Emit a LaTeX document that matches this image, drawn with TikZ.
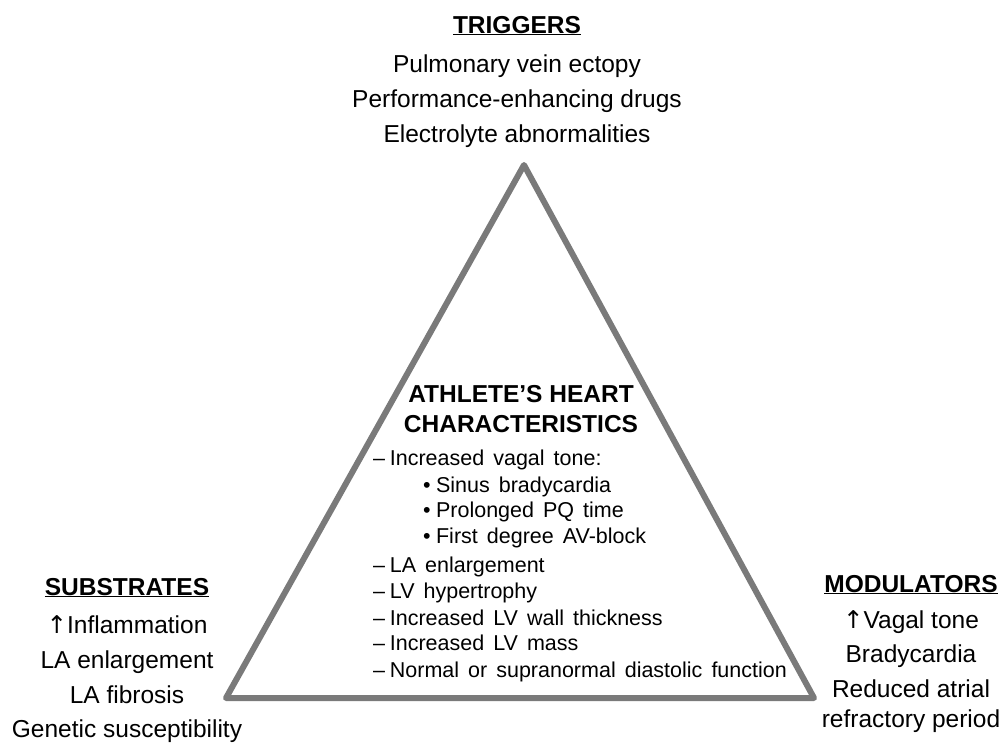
\documentclass[tikz,border=0pt]{standalone}
\usepackage{fontspec}
\setmainfont{Liberation Sans}
\newfontfamily\arrowfont{DejaVu Sans}
\newcommand{\uparr}{{\arrowfont\char"2191}}
\newcommand{\widesp}{\spaceskip=0.42em plus 0.1em\relax}
\newcommand{\dsh}{–\hspace{0.22em}}
\newcommand{\blt}{•\hspace{0.25em}}
\definecolor{trigray}{HTML}{7A7A7A}
\begin{document}
\begin{tikzpicture}[x=1pt,y=-1pt,
  hdr/.style={font=\fontsize{24.5}{28}\selectfont\bfseries, anchor=base, inner sep=0pt},
  txt/.style={font=\fontsize{24.5}{28}\selectfont, anchor=base, inner sep=0pt},
  lst/.style={font=\fontsize{21.5}{24}\selectfont\widesp, anchor=base west, inner sep=0pt},
  tri/.style={draw=trigray, line width=6pt, line join=round}]
\useasboundingbox (0,0) rectangle (1005,744);
\coordinate (apex) at (524,165);
\coordinate (bl) at (226,698);
\coordinate (br) at (814,698);
\draw[tri] (apex) -- (bl) -- (br) -- cycle;

% Triggers
\node[hdr] (trig) at (517,33) {\underline{TRIGGERS}};
\node[txt] (t1) at (517,72) {Pulmonary vein ectopy};
\node[txt] (t2) at (517,107) {Performance-enhancing drugs};
\node[txt] (t3) at (517,142) {Electrolyte abnormalities};

% Center
\node[hdr] (ah1) at (521,402) {ATHLETE’S HEART};
\node[hdr] (ah2) at (521,432) {CHARACTERISTICS};
\node[lst] (c1) at (373,465) {\dsh Increased vagal tone:};
\node[lst] (c2) at (423,492) {\blt Sinus bradycardia};
\node[lst] (c3) at (423,517) {\blt Prolonged PQ time};
\node[lst] (c4) at (423,543) {\blt First degree AV-block};
\node[lst] (c5) at (373,572) {\dsh LA enlargement};
\node[lst] (c6) at (373,598) {\dsh LV hypertrophy};
\node[lst] (c7) at (373,625) {\dsh Increased LV wall thickness};
\node[lst] (c8) at (373,650) {\dsh Increased LV mass};
\node[lst] (c9) at (373,677) {\dsh Normal or supranormal diastolic function};

% Substrates
\node[hdr] (sub) at (127,595) {\underline{SUBSTRATES}};
\node[txt] (s1) at (127,633) {\uparr Inflammation};
\node[txt] (s2) at (127,668) {LA enlargement};
\node[txt] (s3) at (127,703) {LA fibrosis};
\node[txt] (s4) at (127,737) {Genetic susceptibility};

% Modulators
\node[hdr] (mod) at (911,592) {\underline{MODULATORS}};
\node[txt] (m1) at (911,628) {\uparr Vagal tone};
\node[txt] (m2) at (911,662) {Bradycardia};
\node[txt] (m3) at (911,697) {Reduced atrial};
\node[txt] (m4) at (911,727) {refractory period};
\end{tikzpicture}
\end{document}
